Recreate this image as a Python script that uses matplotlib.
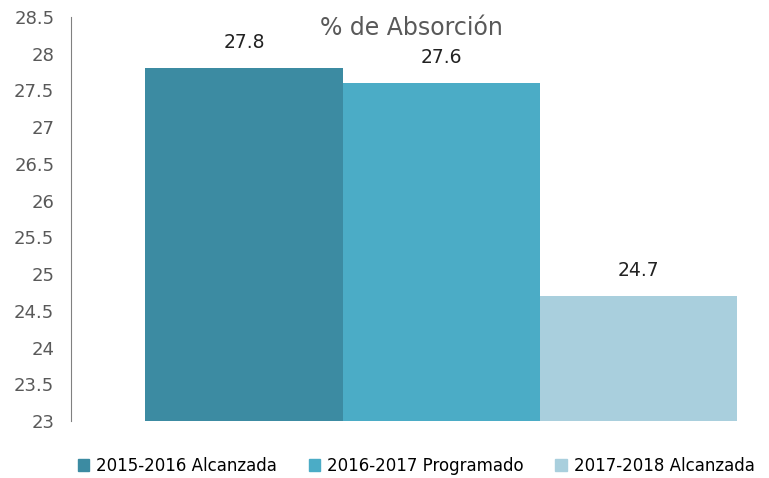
import matplotlib.pyplot as plt
from matplotlib.patches import Patch

# data
series = ["2015-2016 Alcanzada", "2016-2017 Programado", "2017-2018 Alcanzada"]
values = [27.8, 27.6, 24.7]
colors = ["#3C8BA2", "#4BACC6", "#A9CFDD"]
yticks = [23, 23.5, 24, 24.5, 25, 25.5, 26, 26.5, 27, 27.5, 28, 28.5]

fig = plt.figure(figsize=(7.69, 4.78), dpi=100)
ax = fig.add_axes([71 / 769, 1 - 421 / 478, 1 - 71 / 769, (421 - 17) / 478])

for i in range(len(values)):
    ax.bar(i, values[i] - 23, bottom=23, width=1.0, color=colors[i])
    ax.text(i, values[i] + 0.22, str(values[i]), ha="center", va="bottom",
            fontsize=13.5, color="#222222")

ax.set_xlim(-0.876, 2.66)
ax.set_ylim(23, 28.5)
ax.set_yticks(yticks)
ax.set_yticklabels([("%g" % t) for t in yticks])
ax.set_xticks([])
for s in ["top", "right", "bottom"]:
    ax.spines[s].set_visible(False)
ax.spines["left"].set_color("#808080")
ax.tick_params(axis="y", length=0, pad=12, labelsize=13, labelcolor="#595959")

fig.text(411 / 769, 1 - 28 / 478, "% de Absorción", ha="center", va="center",
         fontsize=17, color="#595959")

handles = [Patch(color=c) for c in colors]
fig.legend(handles, series, loc="center", bbox_to_anchor=(0.541, 1 - 466 / 478),
           ncol=3, frameon=False, handlelength=0.7, handleheight=0.7,
           handletextpad=0.4, columnspacing=1.9,
           prop={"family": ["Liberation Sans Narrow", "DejaVu Sans"], "size": 12})

fig.savefig("out.png", dpi=100)
